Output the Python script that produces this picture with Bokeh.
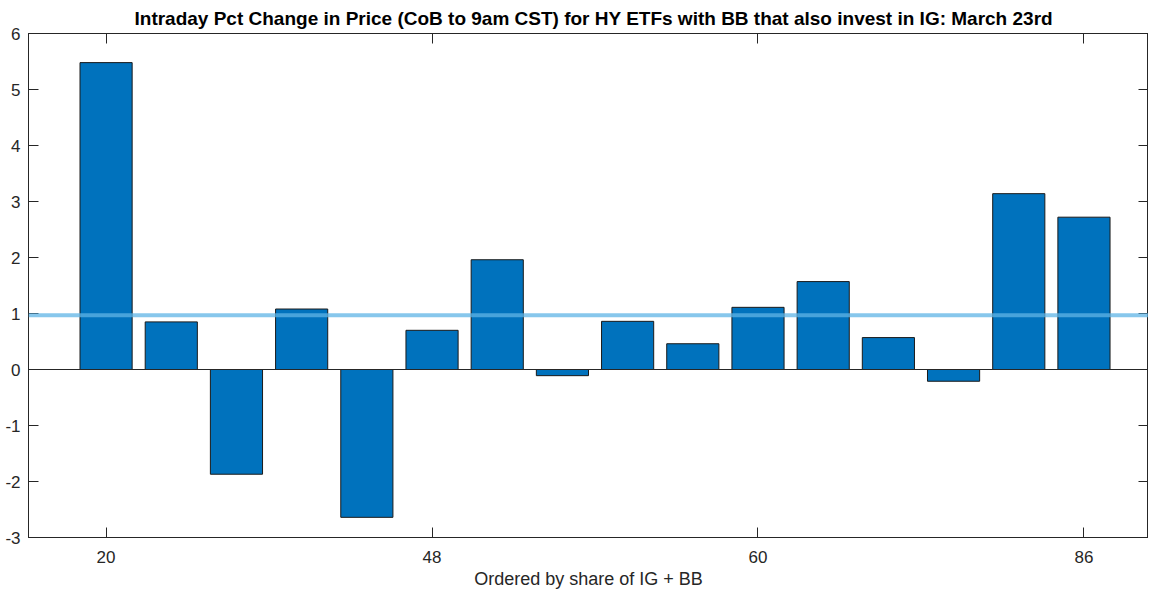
from bokeh.plotting import figure
from bokeh.models import Span, LinearAxis, FixedTicker, Range1d
from bokeh.embed import file_html
from bokeh.resources import INLINE

# ---- data ----
pct_change = [5.48, 0.85, -1.87, 1.08, -2.64, 0.70, 1.96, -0.11,
              0.86, 0.46, 1.11, 1.57, 0.57, -0.21, 3.14, 2.72]
tick_positions = [1, 6, 11, 16]
tick_labels = ["20", "48", "60", "86"]
mean_line = 0.97
y_ticks = [-3, -2, -1, 0, 1, 2, 3, 4, 5, 6]

positions = list(range(1, len(pct_change) + 1))

AX = "#262626"
FONT = "Liberation Sans"

p = figure(width=1148, height=591, output_backend="svg", toolbar_location=None,
           x_range=Range1d(-0.19, 16.99), y_range=Range1d(-3, 6),
           min_border_left=28, min_border_right=0, min_border_top=0,
           min_border_bottom=0,
           title="Intraday Pct Change in Price (CoB to 9am CST) for HY ETFs with BB that also invest in IG: March 23rd")

p.title.text_font = FONT
p.title.text_font_size = "19px"
p.title.text_font_style = "bold"
p.title.text_color = "#000000"
p.title.align = "left"
p.title.standoff = 10
p.title.offset = 106

p.xgrid.visible = False
p.ygrid.visible = False
p.outline_line_color = AX
p.background_fill_color = "white"
p.border_fill_color = "white"

p.vbar(x=positions, top=pct_change, bottom=0, width=0.8,
       fill_color="#0072BD", line_color="#1a1a1a", line_width=1)

p.add_layout(Span(location=0, dimension="width", line_color=AX, line_width=1))
p.add_layout(Span(location=mean_line, dimension="width",
                  line_color="#5FB4E6", line_alpha=0.75, line_width=4))

# bottom axis
xa = p.xaxis[0]
xa.ticker = FixedTicker(ticks=tick_positions)
xa.major_label_overrides = {t: l for t, l in zip(tick_positions, tick_labels)}
xa.axis_label = "Ordered by share of IG + BB"

# left axis
ya = p.yaxis[0]
ya.ticker = FixedTicker(ticks=y_ticks)
ya.major_label_overrides = {t: str(t) for t in y_ticks}

for ax in (xa, ya):
    ax.axis_line_color = AX
    ax.major_tick_line_color = AX
    ax.major_tick_in = 10
    ax.major_tick_out = 0
    ax.minor_tick_line_color = None
    ax.major_label_text_font = FONT
    ax.major_label_text_font_size = "17px"
    ax.major_label_text_color = AX
    ax.axis_label_text_font = FONT
    ax.axis_label_text_font_size = "18px"
    ax.axis_label_text_font_style = "normal"
    ax.axis_label_text_color = AX

xa.major_label_standoff = 13
xa.axis_label_standoff = 3
ya.major_label_standoff = 8

# top and right axes (ticks only, labels not drawn)
top = LinearAxis(ticker=FixedTicker(ticks=tick_positions))
right = LinearAxis(ticker=FixedTicker(ticks=y_ticks))
for ax, ticks in ((top, tick_positions), (right, y_ticks)):
    ax.axis_line_color = AX
    ax.major_tick_line_color = AX
    ax.major_tick_in = 10
    ax.major_tick_out = 0
    ax.minor_tick_line_color = None
    ax.major_label_text_color = None
    ax.major_label_standoff = 0
    ax.major_label_overrides = {t: "" for t in ticks}
p.add_layout(top, "above")
p.add_layout(right, "right")

open("out.html", "w").write(file_html(p, INLINE))
